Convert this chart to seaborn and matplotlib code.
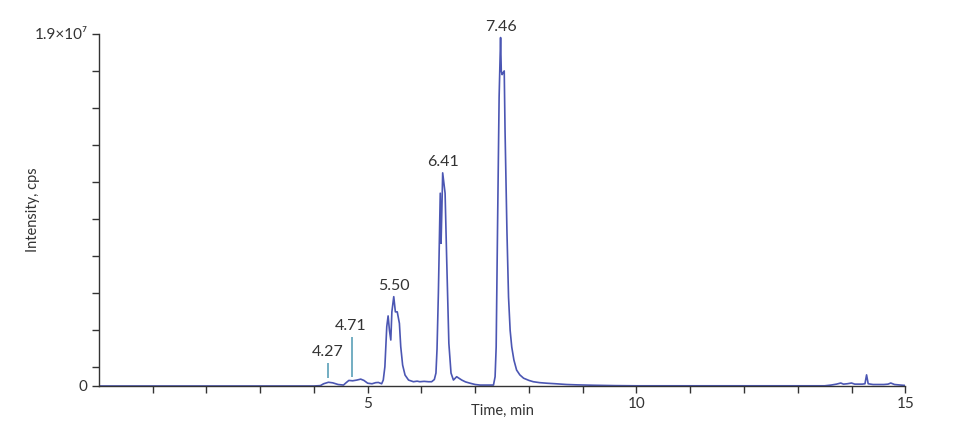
import numpy as np
import pandas as pd
import matplotlib
matplotlib.use("Agg")
import matplotlib.pyplot as plt
import seaborn as sns

# chromatogram trace, time in min, intensity in 1e6 cps
time_min = [0.0, 4.0, 4.12, 4.18, 4.27, 4.35, 4.45, 4.55, 4.60, 4.65, 4.72, 4.80, 4.87, 4.93,
            5.00, 5.08, 5.15, 5.20, 5.26, 5.29, 5.32, 5.355, 5.38, 5.405, 5.43, 5.45, 5.485,
            5.515, 5.55, 5.59, 5.615, 5.65, 5.695, 5.76, 5.85, 5.92, 5.97, 6.05, 6.13, 6.19,
            6.24, 6.27, 6.29, 6.315, 6.35, 6.365, 6.38, 6.395, 6.44, 6.47, 6.51, 6.55,
            6.595, 6.655, 6.75, 6.82, 6.905, 7.0, 7.09, 7.34, 7.37, 7.39, 7.415, 7.445,
            7.472, 7.485, 7.50, 7.52, 7.54, 7.555, 7.59, 7.62, 7.65, 7.68, 7.72, 7.77,
            7.83, 7.90, 8.0, 8.08, 8.2, 8.33, 8.5, 8.7, 8.9, 9.2, 9.6, 10.0, 13.5, 13.62,
            13.72, 13.8, 13.85, 13.92, 14.0, 14.06, 14.2, 14.25, 14.28, 14.31, 14.4, 14.6,
            14.68, 14.73, 14.8, 14.95, 15.0]
intensity = [0.0, 0.0, 0.02, 0.12, 0.2, 0.17, 0.08, 0.05, 0.18, 0.30, 0.28, 0.32, 0.37, 0.30,
             0.15, 0.12, 0.18, 0.19, 0.12, 0.32, 1.04, 3.2, 3.78, 3.0, 2.48, 4.0, 4.82,
             4.0, 4.0, 3.38, 2.12, 1.13, 0.59, 0.32, 0.23, 0.26, 0.23, 0.25, 0.23, 0.23,
             0.35, 0.7, 2.0, 5.0, 10.4, 7.7, 9.5, 11.5, 10.4, 6.8, 2.3, 0.7,
             0.32, 0.5, 0.32, 0.22, 0.15, 0.08, 0.05, 0.05, 0.5, 2.1, 8.4, 15.6,
             18.8, 17.0, 16.8, 16.9, 17.0, 13.8, 8.4, 4.8, 3.0, 2.1, 1.4, 0.86,
             0.6, 0.42, 0.3, 0.23, 0.18, 0.15, 0.12, 0.08, 0.06, 0.04, 0.02, 0.01, 0.01, 0.05,
             0.1, 0.16, 0.1, 0.12, 0.16, 0.1, 0.1, 0.12, 0.6, 0.12, 0.08, 0.08,
             0.1, 0.16, 0.08, 0.04, 0.03]

# labelled peaks
peak_times = [5.485, 6.395, 7.472]
peak_heights = [4.82, 11.5, 18.8]
peak_labels = ["5.50", "6.41", "7.46"]

# small peaks marked with a tick line
small_times = [4.27, 4.71]
small_bottom = [0.43, 0.49]
small_top = [1.24, 2.64]
small_labels = ["4.27", "4.71"]

df = pd.DataFrame({"time": time_min, "intensity": intensity})

sns.set_style("ticks")
plt.rcParams["font.family"] = ["Lato", "DejaVu Sans"]

fig = plt.figure(figsize=(9.6, 4.23), dpi=100)
ax = fig.add_axes([0.103, 0.0875, 0.84, 0.8325])

sns.lineplot(data=df, x="time", y="intensity", estimator=None, sort=False,
             color="#4b56b3", linewidth=1.2, ax=ax)

for t, h, lab in zip(peak_times, peak_heights, peak_labels):
    ax.annotate(lab, xy=(t, h), xytext=(0, 4), textcoords="offset pixels",
                ha="center", va="bottom", fontsize=11.5, color="#333333")

ax.vlines(small_times, small_bottom, small_top, color="#5a9fb8", linewidth=1.2)
for t, top, lab in zip(small_times, small_top, small_labels):
    ax.annotate(lab, xy=(t, top), xytext=(-1, 4), textcoords="offset pixels",
                ha="center", va="bottom", fontsize=11.5, color="#333333")

ax.set_xlim(0, 15)
ax.set_ylim(0, 19)

xt = list(range(1, 16))
ax.set_xticks(xt)
ax.set_xticklabels([str(v) if v % 5 == 0 else "" for v in xt])
yt = [0] + list(range(1, 20, 2))
ax.set_yticks(yt)
ax.set_yticklabels(["0"] + [""] * 9 + ["1.9×10⁷"])

ax.tick_params(axis="both", length=5, width=1, color="#333333", labelsize=11,
               labelcolor="#333333", pad=3)

ax.set_xlabel("Time, min", fontsize=10.5, color="#333333", labelpad=-5)
ax.set_ylabel("Intensity, cps", fontsize=10.5, color="#333333")
ax.yaxis.set_label_coords(-0.073, 0.5)

sns.despine(ax=ax)
for s in ["left", "bottom"]:
    ax.spines[s].set_color("#333333")
    ax.spines[s].set_linewidth(1)

fig.savefig("out.png", dpi=100)
